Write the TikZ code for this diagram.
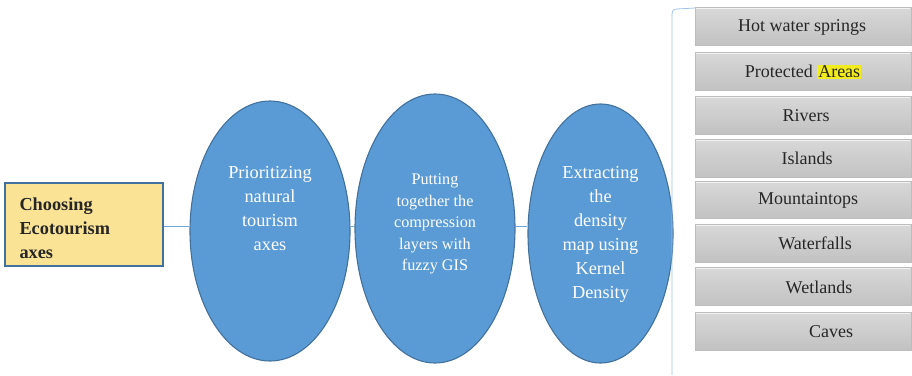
\documentclass[tikz,border=0pt]{standalone}
\usepackage{fontspec}
\setmainfont{Liberation Serif}
\usetikzlibrary{shapes.geometric}
\definecolor{ellfill}{HTML}{5B9BD5}
\definecolor{elldraw}{HTML}{41719C}
\definecolor{boxfill}{HTML}{FBE396}
\definecolor{linkc}{HTML}{6FA8DC}
\definecolor{brack}{HTML}{9DC3E6}
\definecolor{greytop}{HTML}{D8D8D8}
\definecolor{greybot}{HTML}{C2C2C2}
\definecolor{greyedge}{HTML}{BDBDBD}
\definecolor{hl}{HTML}{F2EC1C}
\begin{document}
\begin{tikzpicture}[x=1pt,y=-1pt,
  ell/.style={ellipse,fill=ellfill,draw=elldraw,line width=1.1pt,inner sep=0pt},
  etext/.style={text=white,align=center,font=\fontsize{18.3}{24}\selectfont},
  link/.style={draw=linkc,line width=0.6pt},
  greybox/.style={draw=greyedge,line width=0.6pt,top color=greytop,bottom color=greybot},
  gtext/.style={font=\fontsize{18}{20}\selectfont,text=black!85}]
\useasboundingbox (0,0) rectangle (912,375);
% left box
\node[draw=elldraw,fill=boxfill,line width=1.1pt,minimum width=158pt,minimum height=83pt,inner sep=0pt] (box) at (84,224.5) {};
\node[anchor=west,align=left,font=\bfseries\fontsize{18.3}{24}\selectfont,text=black!85] (boxt) at (16,228) {Choosing\\Ecotourism\\axes};
% ellipses
\node[ell,minimum width=160pt,minimum height=260pt] (e1) at (270,231) {};
\node[ell,minimum width=160pt,minimum height=269pt] (e2) at (435,228.5) {};
\node[ell,minimum width=145pt,minimum height=259pt] (e3) at (600.5,233.5) {};
\node[etext] (t1) at (270,209) {Prioritizing\\natural\\tourism\\axes};
\node[etext,font=\fontsize{16.2}{21.5}\selectfont] (t2) at (435,224) {Putting\\together the\\compression\\layers with\\fuzzy GIS};
\node[etext] (t3) at (600.5,234) {Extracting\\the\\density\\map using\\Kernel\\Density};
% connectors
\coordinate (ly) at (0,226);
\draw[link] (box.east |- ly) -- (e1.west |- ly);
\draw[link] (e1.east |- ly) -- (e2.west |- ly);
\draw[link] (e2.east |- ly) -- (e3.west |- ly);
% bracket
\coordinate (bt) at (695,8);
\coordinate (bb) at (672,375);
\draw[draw=brack,line width=0.8pt] (bt) -- (677,9) .. controls (673,9.5) .. (672,14) -- (bb);
% grey boxes
\foreach \n/\ya/\yb in {1/7/45,2/52/90,3/96/134,4/139/177,5/181/218,6/224/262,7/267/305,8/312/350}{
  \draw[greybox] (695,\ya) rectangle (911,\yb);
  \draw[white!90!gray,line width=0.6pt] (696,\ya+1.2) -- (910,\ya+1.2);
}
\node[gtext] (g1) at (802,27.5) {Hot water springs};
\node[gtext] (g2) at (803,72) {Protected {\setlength{\fboxsep}{0.8pt}\colorbox{hl}{Areas}}};
\node[gtext] (g3) at (806,115.5) {Rivers};
\node[gtext] (g4) at (807,158.5) {Islands};
\node[gtext] (g5) at (808,200.5) {Mountaintops};
\node[gtext] (g6) at (815,243.5) {Waterfalls};
\node[gtext] (g7) at (819,287.5) {Wetlands};
\node[gtext] (g8) at (831,331.5) {Caves};
\end{tikzpicture}
\end{document}
